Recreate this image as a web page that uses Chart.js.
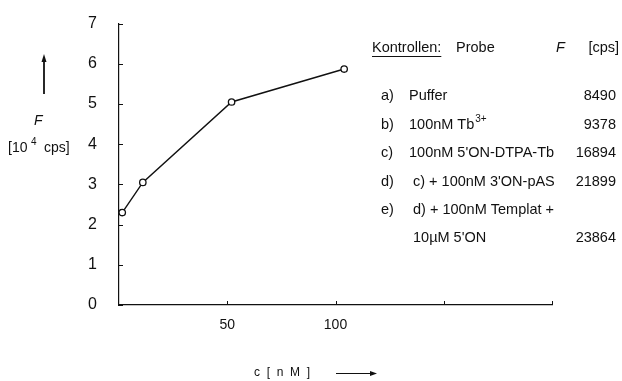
<!DOCTYPE html>
<html>
<head>
<meta charset="utf-8">
<script src="https://cdn.jsdelivr.net/npm/chart.js@4"></script>
<style>
  html, body { margin: 0; padding: 0; background: #fff; }
  #wrap { width: 622px; height: 381px; }
</style>
</head>
<body>
<div id="wrap"><canvas id="c" width="622" height="381"></canvas></div>
<script>
  const concNM = [1.5, 11, 52, 104];
  const fluor = [2.3, 3.05, 5.05, 5.87];
  const xTickLabels = [50, 100];
  const yTicks = [0, 1, 2, 3, 4, 5, 6, 7];

  // Kontrollen-Tabelle
  const ctrlKeys = ['a)', 'b)', 'c)', 'd)', 'e)', ''];
  const ctrlProbe = ['Puffer', '100nM Tb', '100nM 5\'ON-DTPA-Tb', 'c) + 100nM 3\'ON-pAS', 'd) + 100nM Templat +', '10\u00b5M 5\'ON'];
  const ctrlF = ['8490', '9378', '16894', '21899', '', '23864'];

  const FONT = '"Liberation Sans", Arial, sans-serif';

  /* ── innere Teilstriche ── */
  const innerTicks = {
    id: 'innerTicks',
    afterDraw(chart) {
      const ctx = chart.ctx, x = chart.scales.x, y = chart.scales.y;
      ctx.save();
      ctx.strokeStyle = '#111';
      ctx.lineWidth = 1;
      ctx.beginPath();
      y.ticks.forEach(function (t) {
        const py = Math.round(y.getPixelForValue(t.value)) + 0.5;
        ctx.moveTo(x.left, py); ctx.lineTo(x.left + 4, py);
      });
      x.ticks.forEach(function (t) {
        if (t.value === 0) return;
        const px = Math.round(x.getPixelForValue(t.value)) + 0.5;
        ctx.moveTo(px, y.bottom); ctx.lineTo(px, y.bottom - 4);
      });
      ctx.stroke();
      ctx.restore();
    }
  };

  /* ── Beschriftungen ── */
  const labels = {
    id: 'labels',
    afterDraw(chart) {
      const ctx = chart.ctx;
      ctx.save();
      ctx.fillStyle = '#111';
      ctx.strokeStyle = '#111';
      ctx.textBaseline = 'middle';

      // y-Titel mit Pfeil
      ctx.lineWidth = 1.8;
      ctx.beginPath(); ctx.moveTo(44, 94); ctx.lineTo(44, 60); ctx.stroke();
      ctx.beginPath(); ctx.moveTo(44, 54); ctx.lineTo(41.5, 62); ctx.lineTo(46.5, 62); ctx.closePath(); ctx.fill();
      ctx.font = 'italic 14px ' + FONT;
      ctx.fillText('F', 34, 121);
      ctx.font = '14px ' + FONT;
      ctx.fillText('[10', 8, 148);
      ctx.font = '10px ' + FONT;
      ctx.fillText('4', 31, 142);
      ctx.font = '14px ' + FONT;
      ctx.fillText('cps]', 44, 148);

      // x-Titel mit Pfeil
      ctx.font = '12px ' + FONT;
      ctx.fillText('c  [  n  M  ]', 254, 373);
      ctx.lineWidth = 1;
      ctx.beginPath(); ctx.moveTo(336, 373.5); ctx.lineTo(372, 373.5); ctx.stroke();
      ctx.beginPath(); ctx.moveTo(377, 373.5); ctx.lineTo(370, 371); ctx.lineTo(370, 376); ctx.closePath(); ctx.fill();

      // Tabelle
      const TF = '14.5px ' + FONT;
      ctx.font = TF;
      ctx.fillText('Kontrollen:', 372, 48);
      const w = ctx.measureText('Kontrollen:').width;
      ctx.beginPath(); ctx.moveTo(372, 56.5); ctx.lineTo(372 + w, 56.5); ctx.stroke();
      ctx.fillText('Probe', 456, 48);
      ctx.font = 'italic 14.5px ' + FONT;
      ctx.fillText('F', 556, 48);
      ctx.font = TF;
      ctx.textAlign = 'right';
      ctx.fillText('[cps]', 619, 48);

      const rowY = [96, 125, 153, 182, 210, 238];
      ctrlKeys.forEach(function (k, i) {
        const yy = rowY[i];
        ctx.textAlign = 'left';
        ctx.font = TF;
        ctx.fillText(k, 381, yy);
        const px = i >= 3 ? 413 : 409;
        ctx.fillText(ctrlProbe[i], px, yy);
        if (i === 1) {
          const tw = ctx.measureText(ctrlProbe[i]).width;
          ctx.font = '10px ' + FONT;
          ctx.fillText('3+', px + tw + 1, yy - 6);
          ctx.font = TF;
        }
        ctx.textAlign = 'right';
        ctx.fillText(ctrlF[i], 616, yy);
      });
      ctx.restore();
    }
  };

  new Chart(document.getElementById('c').getContext('2d'), {
    type: 'scatter',
    data: {
      datasets: [{
        data: concNM.map(function (c, i) { return { x: c, y: fluor[i] }; }),
        showLine: true,
        borderColor: '#111',
        borderWidth: 1.4,
        pointRadius: 3.2,
        pointBackgroundColor: '#fff',
        pointBorderColor: '#111',
        pointBorderWidth: 1.3
      }]
    },
    options: {
      responsive: false,
      animation: false,
      events: [],
      layout: { padding: { left: 0, top: 16, right: 70, bottom: 0 } },
      plugins: { legend: { display: false }, tooltip: { enabled: false } },
      scales: {
        x: {
          type: 'linear', min: 0, max: 200,
          afterFit: function (s) { s.height = 76; },
          border: { color: '#111', width: 1.2 },
          grid: { display: false },
          ticks: {
            stepSize: 50, padding: 4, color: '#111', maxRotation: 0,
            font: { family: FONT, size: 14 },
            callback: function (v) { return xTickLabels.indexOf(v) >= 0 ? String(v) : ''; }
          }
        },
        y: {
          type: 'linear', min: 0, max: 7,
          afterFit: function (s) { s.width = 119; },
          afterBuildTicks: function (s) { s.ticks = yTicks.map(function (v) { return { value: v }; }); },
          border: { color: '#111', width: 1.2 },
          grid: { display: false },
          ticks: {
            padding: 14, color: '#111',
            font: { family: FONT, size: 16 }
          }
        }
      }
    },
    plugins: [innerTicks, labels]
  });
</script>
</body>
</html>
